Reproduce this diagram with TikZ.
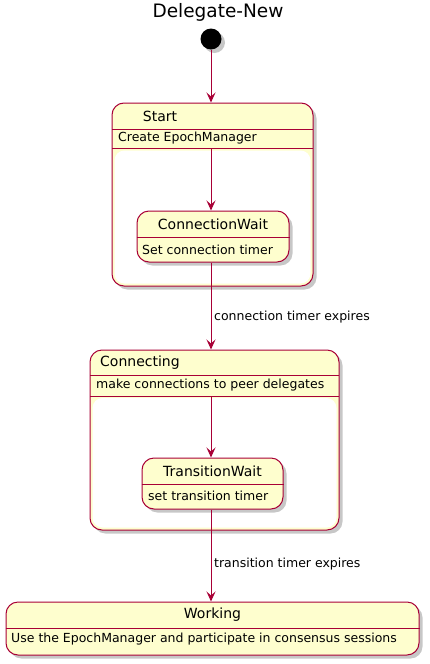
\documentclass[tikz,border=0pt]{standalone}
\usepackage{fontspec}
\setmainfont{DejaVu Sans}
\usetikzlibrary{arrows.meta}
\definecolor{stfill}{HTML}{FEFECE}
\definecolor{stline}{HTML}{A80036}
\tikzset{
  shadowed/.style={preaction={fill=black,opacity=0.22,transform canvas={shift={(3.5pt,-3.5pt)}}}},
  statebox/.style={shape=rectangle,rounded corners=12pt,draw=stline,fill=stfill,line width=1pt,shadowed,inner sep=0pt},
  sep/.style={draw=stline,line width=0.8pt},
  sname/.style={font=\fontsize{14}{16}\selectfont,inner sep=0pt,text=black},
  sdesc/.style={font=\fontsize{12.5}{14}\selectfont,inner sep=0pt,anchor=west,text=black},
  tlabel/.style={font=\fontsize{12.5}{14}\selectfont,inner sep=0pt,anchor=west,text=black},
  arr/.style={draw=stline,line width=0.9pt,-{Stealth[length=10pt,width=9pt,inset=4pt]}}
}
\begin{document}
\begin{tikzpicture}[x=1pt,y=-1pt]
\useasboundingbox (0,0) rectangle (430,664);
% title
\node[font=\fontsize{18.5}{20}\selectfont,inner sep=0pt] (title) at (218,12) {Delegate-New};
% initial
\node[circle,fill=black,minimum size=21pt,inner sep=0pt,shadowed] (init) at (211,39) {};
% Start composite
\node[statebox,minimum width=201pt,minimum height=183pt] (start) at (212.5,194.5) {};
\fill[white,rounded corners=10pt] (114.5,150.5) rectangle (310.5,283.5);
\draw[sep] (112,129) -- (313,129);
\draw[sep] (112,148) -- (313,148);
\node[sname] (startname) at (160,116) {Start};
\node[sdesc] (startdesc) at (118,138.5) {Create EpochManager};
\coordinate (startbot) at (211,148);
% ConnectionWait
\node[statebox,minimum width=152pt,minimum height=51pt] (cwait) at (213,236.5) {};
\draw[sep] (cwait.west |- 0,237) -- (cwait.east |- 0,237);
\node[sname] (cwaitname) at (213,224) {ConnectionWait};
\node[sdesc] (cwaitdesc) at (142,249.5) {Set connection timer};
% Connecting composite
\node[statebox,minimum width=249pt,minimum height=180pt] (conn) at (214.5,440) {};
\fill[white,rounded corners=10pt] (92.5,398) rectangle (336.5,527.5);
\draw[sep] (90,375) -- (339,375);
\draw[sep] (90,396) -- (339,396);
\node[sname,anchor=west] (connname) at (100,362.5) {Connecting};
\node[sdesc] (conndesc) at (96,385.5) {make connections to peer delegates};
\coordinate (connbot) at (211,396);
% TransitionWait
\node[statebox,minimum width=141pt,minimum height=51pt] (twait) at (212.5,483.5) {};
\draw[sep] (twait.west |- 0,484) -- (twait.east |- 0,484);
\node[sname] (twaitname) at (212.5,471) {TransitionWait};
\node[sdesc] (twaitdesc) at (148,495.5) {set transition timer};
% Working
\node[statebox,minimum width=413pt,minimum height=53pt] (work) at (212.5,628.5) {};
\draw[sep] (work.west |- 0,628) -- (work.east |- 0,628);
\node[sname] (workname) at (212.5,615) {Working};
\node[sdesc] (workdesc) at (11,639.5) {Use the EpochManager and participate in consensus sessions};
% connectors
\draw[arr] (init) -- (init |- start.north);
\draw[arr] (startbot) -- (startbot |- cwait.north);
\draw[arr] (startbot |- cwait.south) -- (startbot |- conn.north);
\node[tlabel] (lab1) at (214,317.5) {connection timer expires};
\draw[arr] (connbot) -- (connbot |- twait.north);
\draw[arr] (connbot |- twait.south) -- (connbot |- work.north);
\node[tlabel] (lab2) at (214,564.5) {transition timer expires};
\end{tikzpicture}
\end{document}
